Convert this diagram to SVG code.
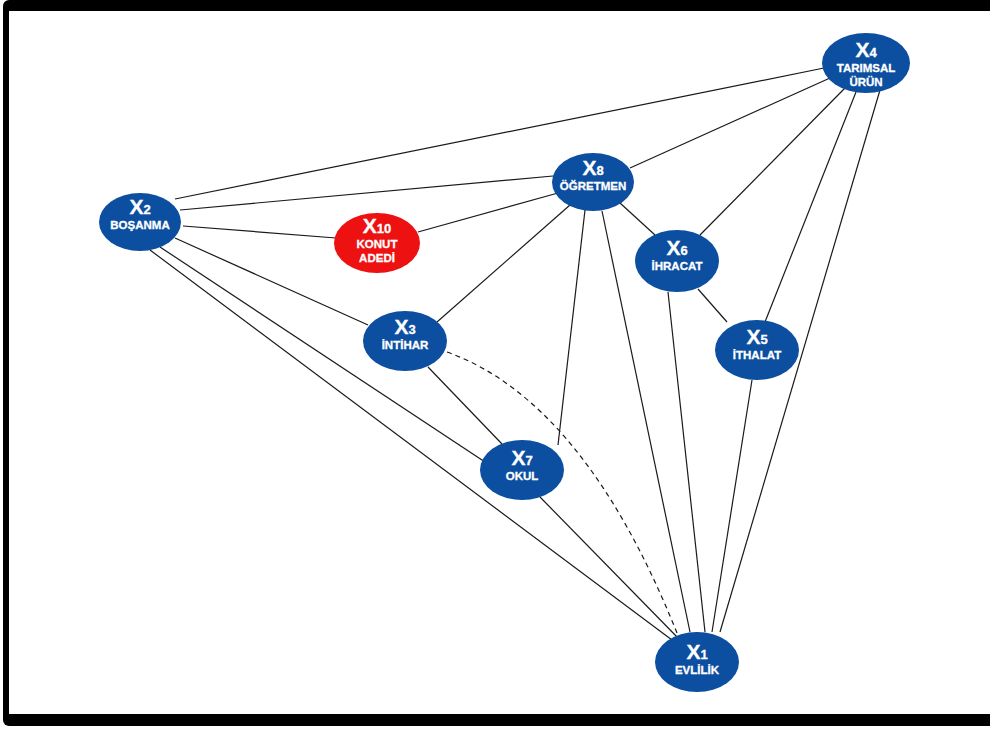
<svg xmlns="http://www.w3.org/2000/svg" width="990" height="729" viewBox="0 0 990 729">
<style>
.e{stroke:#1a1a1a;stroke-width:1.2;fill:none}
.d{stroke:#1a1a1a;stroke-width:1.2;fill:none;stroke-dasharray:5,4}
.n{fill:#0c4e9f}
.r{fill:#ee1111}
.x{font-family:"Liberation Sans",Arial,sans-serif;font-weight:bold;fill:#fff;font-size:21px;stroke:#fff;stroke-width:0.3;text-anchor:middle}
.s{font-size:13px}
.l{font-family:"Liberation Sans",Arial,sans-serif;font-weight:bold;fill:#fff;font-size:11.5px;text-anchor:middle;stroke:#fff;stroke-width:0.3}
</style>
<rect x="3" y="0" width="1000" height="726" rx="6" fill="#000"/>
<rect x="9" y="11" width="1000" height="703" fill="#fff"/>
<g id="connectors">
<line class="e" x1="175" y1="199" x2="824" y2="68"/>
<line class="e" x1="630" y1="168" x2="830" y2="78"/>
<line class="e" x1="700" y1="235" x2="845" y2="88"/>
<line class="e" x1="765" y1="322" x2="856" y2="92"/>
<line class="e" x1="720" y1="632" x2="880" y2="90"/>
<line class="e" x1="180" y1="210" x2="553" y2="176"/>
<line class="e" x1="183" y1="226" x2="336" y2="238"/>
<line class="e" x1="175" y1="238" x2="368" y2="325"/>
<line class="e" x1="160" y1="247" x2="485" y2="462"/>
<line class="e" x1="150" y1="250" x2="672" y2="640"/>
<line class="e" x1="418" y1="232" x2="558" y2="193"/>
<line class="e" x1="570" y1="205" x2="437" y2="322"/>
<line class="e" x1="585" y1="210" x2="558" y2="445"/>
<line class="e" x1="620" y1="203" x2="655" y2="235"/>
<line class="e" x1="602" y1="211" x2="690" y2="632"/>
<line class="e" x1="698" y1="289" x2="727" y2="322"/>
<line class="e" x1="668" y1="292" x2="705" y2="632"/>
<line class="e" x1="752" y1="380" x2="712" y2="632"/>
<line class="e" x1="428" y1="367" x2="502" y2="444"/>
<line class="e" x1="540" y1="497" x2="680" y2="640"/>
<path class="d" d="M447,352 Q584,401 677,633"/>
</g>
<g id="X4"><ellipse class="n" cx="866" cy="63" rx="44" ry="30"/><text class="x" x="866" y="57">X<tspan class="s">4</tspan></text><text class="l" x="866" y="72">TARIMSAL</text><text class="l" x="866" y="86">ÜRÜN</text></g>
<g id="X2"><ellipse class="n" cx="140" cy="222" rx="41" ry="29"/><text class="x" x="140" y="214">X<tspan class="s">2</tspan></text><text class="l" x="140" y="229">BOŞANMA</text></g>
<g id="X10"><ellipse class="r" cx="377" cy="243" rx="43" ry="30"/><text class="x" x="377" y="233">X<tspan class="s">10</tspan></text><text class="l" x="377" y="248">KONUT</text><text class="l" x="377" y="262">ADEDİ</text></g>
<g id="X8"><ellipse class="n" cx="593" cy="182" rx="41" ry="29"/><text class="x" x="593" y="175">X<tspan class="s">8</tspan></text><text class="l" x="593" y="190">ÖĞRETMEN</text></g>
<g id="X6"><ellipse class="n" cx="677" cy="261" rx="42" ry="31"/><text class="x" x="677" y="255">X<tspan class="s">6</tspan></text><text class="l" x="677" y="270">İHRACAT</text></g>
<g id="X3"><ellipse class="n" cx="405" cy="341" rx="42" ry="30"/><text class="x" x="405" y="334">X<tspan class="s">3</tspan></text><text class="l" x="405" y="349">İNTİHAR</text></g>
<g id="X5"><ellipse class="n" cx="757" cy="350" rx="42" ry="30"/><text class="x" x="757" y="344">X<tspan class="s">5</tspan></text><text class="l" x="757" y="359">İTHALAT</text></g>
<g id="X7"><ellipse class="n" cx="522" cy="470" rx="42" ry="30"/><text class="x" x="522" y="465">X<tspan class="s">7</tspan></text><text class="l" x="522" y="480">OKUL</text></g>
<g id="X1"><ellipse class="n" cx="697" cy="662" rx="42" ry="30"/><text class="x" x="697" y="659">X<tspan class="s">1</tspan></text><text class="l" x="697" y="674">EVLİLİK</text></g>
</svg>
